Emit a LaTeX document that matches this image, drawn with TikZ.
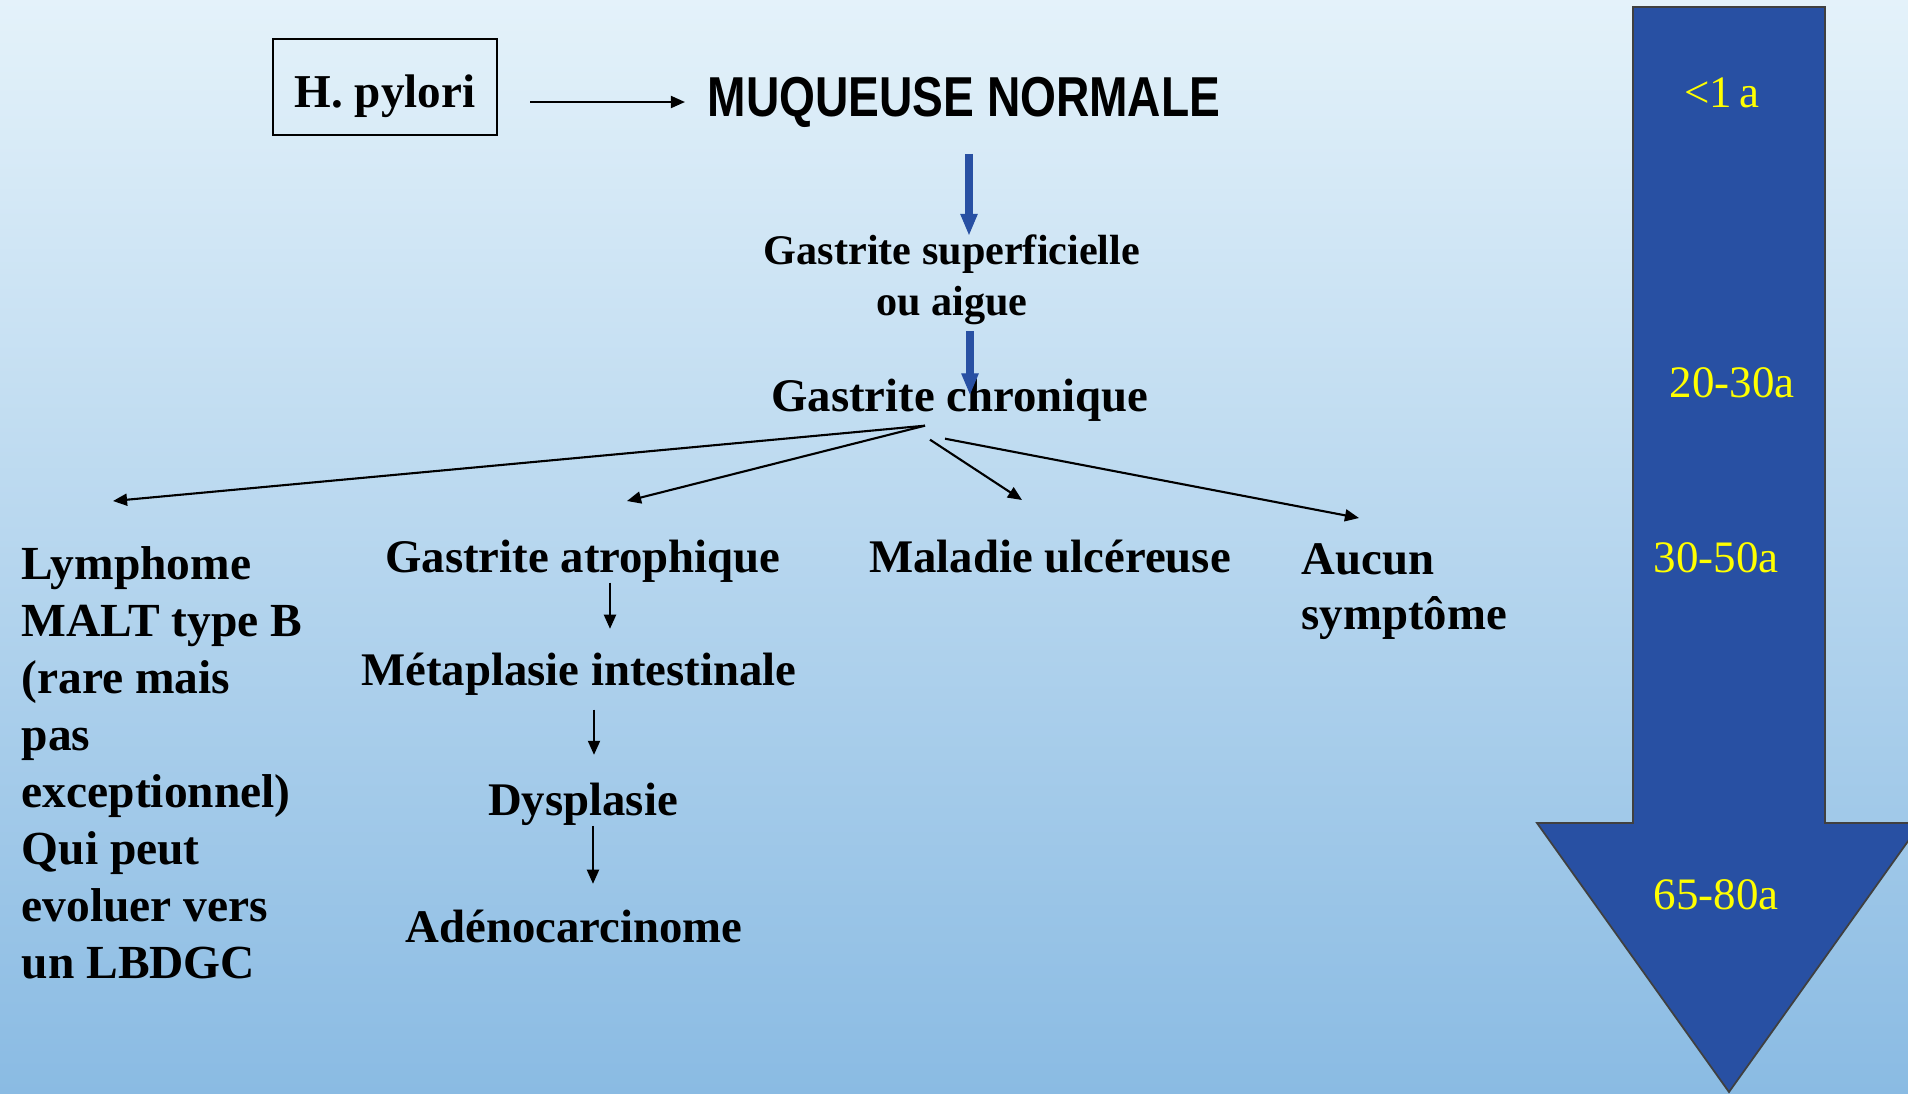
\documentclass[tikz,border=0pt]{standalone}
\usepackage{fontspec}
\setmainfont{Liberation Serif}
\newfontfamily\arialfont{Liberation Sans}
\usetikzlibrary{arrows.meta,calc,positioning}
\definecolor{bgtop}{RGB}{228,242,250}
\definecolor{bgmid}{RGB}{194,223,241}
\definecolor{bgbottom}{RGB}{138,187,227}
\definecolor{arrowblue}{RGB}{40,80,163}
\definecolor{agelabel}{RGB}{255,255,0}

\begin{document}
\begin{tikzpicture}[x=0.01cm, y=-0.01cm,
    stage/.style={inner sep=0pt, anchor=base, font=\fontsize{13.3}{16.2}\selectfont\bfseries},
    hbox/.style={draw, line width=0.6pt, minimum width=2.24cm, minimum height=0.96cm, inner sep=0pt, text height=14pt, text depth=2.2pt, font=\fontsize{13.4}{16}\selectfont\bfseries},
    arrow/.style={-{Triangle[length=4pt,width=3.4pt]}, line width=0.6pt},
    bluearrow/.style={-{Triangle[length=6pt,width=5pt,line width=0.3pt]}, line width=2.5pt, draw=arrowblue},
    age/.style={inner sep=0pt, anchor=base, text=agelabel, font=\fontsize{12.8}{15}\selectfont}
  ]
    \shade[top color=bgtop, middle color=bgmid, bottom color=bgbottom] (0,0) rectangle (1908,1093);
    \useasboundingbox (0,0) rectangle (1908,1093);

    \filldraw[fill=arrowblue, draw=black!75, line width=0.5pt] (1633,7) -- (1825,7) -- (1825,823) -- (1921,823) -- (1729,1092) -- (1537,823) -- (1633,823) -- cycle;
    \node[age] (age1) at (1722,107) {<1\,a};
    \node[age] (age2) at (1732,397) {20-30a};
    \node[age] (age3) at (1716,572) {30-50a};
    \node[age] (age4) at (1716,909) {65-80a};

    \node[hbox] (hp) at (385,87) {H. pylori};
    \node[inner sep=0pt, font=\arialfont\bfseries\fontsize{16}{18}\selectfont] (muq) at (964,102) {\scalebox{0.82}[1]{MUQUEUSE NORMALE}};
    \node[stage, anchor=north, align=center, font=\fontsize{12}{14.5}\selectfont\bfseries] (sup) at (952,234) {Gastrite superficielle\\ou aigue};
    \node[stage] (chron) at (960,411) {Gastrite chronique};

    \node[stage, anchor=north west, align=left, font=\fontsize{13.5}{16.2}\selectfont\bfseries] (lymph) at (21,546) {Lymphome\\MALT type B\\(rare mais\\pas\\exceptionnel)\\Qui peut\\evoluer vers\\un LBDGC};
    \node[stage] (atro) at (583,572) {Gastrite atrophique};
    \node[stage] (meta) at (579,685) {Métaplasie intestinale};
    \node[stage] (dysp) at (583,815) {Dysplasie};
    \node[stage] (adeno) at (574,942) {Adénocarcinome};
    \node[stage] (ulc) at (1050,572) {Maladie ulcéreuse};
    \node[stage, anchor=north west, align=left, font=\fontsize{13.3}{15.6}\selectfont\bfseries] (aucun) at (1301,543) {Aucun\\symptôme};

    \draw[arrow] ($(hp.east)+(32,15)$) -- ($(muq.west)+(-22,0)$);
    \draw[bluearrow] ($(muq.south)+(5,26)$) -- ++(0,81);
    \draw[bluearrow] ($(sup.south)+(18,6)$) -- ++(0,63);

    \coordinate (fanL) at ($(chron.south)+(-35,4)$);
    \coordinate (fanU) at ($(chron.south)+(-30,18)$);
    \coordinate (fanN) at ($(chron.south)+(-15,17)$);
    \coordinate (tipL) at (113,501);
    \coordinate (tipA) at (627,501);
    \coordinate (tipU) at (1022,500);
    \coordinate (tipN) at (1359,518);
    \draw[arrow] (fanL) -- (tipL);
    \draw[arrow] (fanL) -- (tipA);
    \draw[arrow] (fanU) -- (tipU);
    \draw[arrow] (fanN) -- (tipN);

    \draw[arrow] ($(atro.south)+(27,0)$) -- ($(meta.north)+(31,-23)$);
    \draw[arrow] ($(meta.south)+(15,14)$) -- ($(dysp.north)+(11,-27)$);
    \draw[arrow] (dysp.south) ++(10,0) -- ($(adeno.north)+(19,-25)$);
  \end{tikzpicture}
\end{document}
